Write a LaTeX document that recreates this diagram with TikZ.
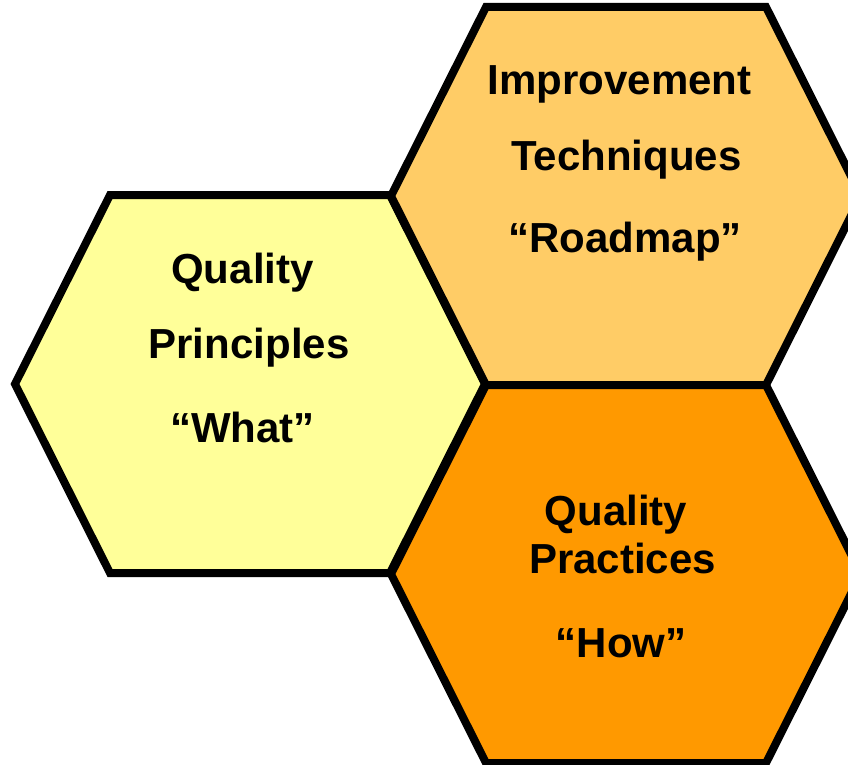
\documentclass[tikz,border=0pt]{standalone}
\usepackage{fontspec}
\setmainfont{Liberation Sans}
\definecolor{hexA}{HTML}{FFFF99}
\definecolor{hexB}{HTML}{FFCC66}
\definecolor{hexC}{HTML}{FF9900}
\tikzset{
  hexcell/.style={draw=black, line width=8pt, line join=miter},
  lbl/.style={anchor=base, inner sep=0pt, font=\fontsize{42}{50}\selectfont\bfseries}
}
\begin{document}
\begin{tikzpicture}[x=1pt,y=-1pt]
\useasboundingbox (0,0) rectangle (848,765);
\clip (0,0) rectangle (848,765);
% hexagons: center (cx,cy), half top edge 140, half width 235, half height 189
\newcommand{\hexpath}[2]{(#1-140,#2-189) -- (#1+140,#2-189) -- (#1+235,#2) -- (#1+140,#2+189) -- (#1-140,#2+189) -- (#1-235,#2) -- cycle}
\draw[hexcell, fill=hexA] \hexpath{250}{384};
\draw[hexcell, fill=hexB] \hexpath{626}{196};
\draw[hexcell, fill=hexC] \hexpath{626}{574};
% left texts
\node[lbl] (l1) at (242.5,283) {Quality};
\node[lbl] (l2) at (249,358) {Principles};
\node[lbl] (l3) at (242.5,442) {“What”};
% top-right texts
\node[lbl] (t1) at (619.5,95) {Improvement};
\node[lbl] (t2) at (626.5,170) {Techniques};
\node[lbl] (t3) at (625,252) {“Roadmap”};
% bottom texts
\node[lbl] (b1) at (616,525) {Quality};
\node[lbl] (b2) at (622.5,573) {Practices};
\node[lbl] (b3) at (621,657) {“How”};
\end{tikzpicture}
\end{document}
